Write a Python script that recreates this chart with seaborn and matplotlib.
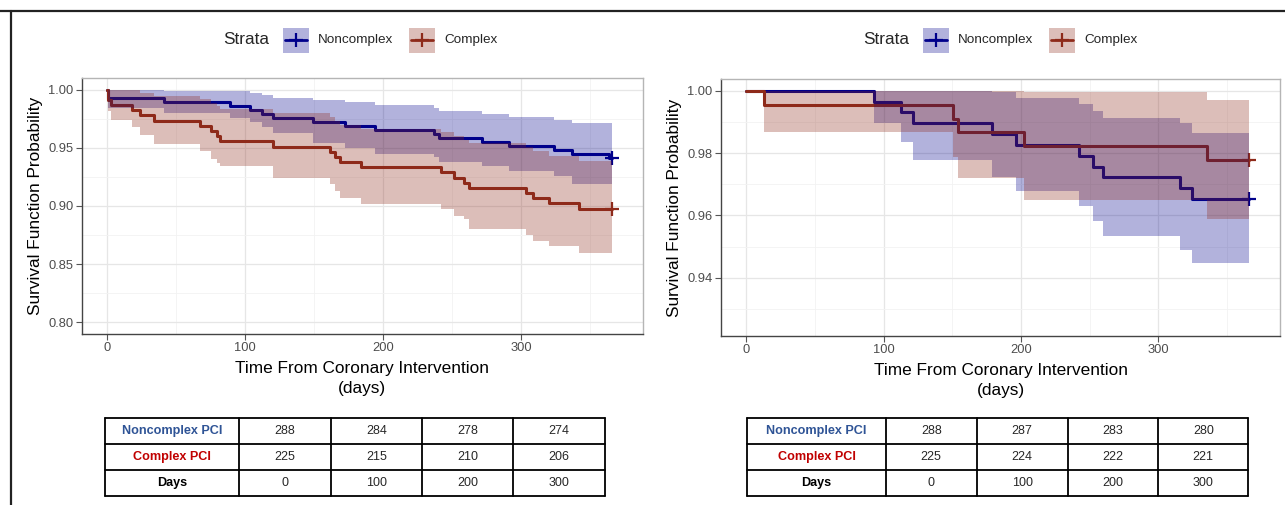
import numpy as np
import pandas as pd
import matplotlib
matplotlib.use("Agg")
import matplotlib.pyplot as plt
from matplotlib.patches import Rectangle
from matplotlib.lines import Line2D
import seaborn as sns

# ---------------- data ----------------
strata = ["Noncomplex", "Complex"]
end_day = 366

# left panel - step times (days) and survival / confidence limits
blue_l_time = [0, 0.5, 41, 89, 103.6, 112, 120.5, 149, 172.3, 194, 237, 240.5, 272, 291.6, 324, 337, 364]
blue_l_surv = [1.0, 0.9931, 0.9896, 0.9861, 0.9826, 0.9792, 0.9757, 0.9722, 0.9688, 0.9653, 0.9618,
               0.9583, 0.9549, 0.9514, 0.9479, 0.9444, 0.9410]
blue_l_upper = [1.0, 1.0, 0.9990, 0.9986, 0.9974, 0.9957, 0.9929, 0.9910, 0.9890, 0.9868, 0.9838,
                0.9814, 0.9794, 0.9766, 0.9743, 0.9714, 0.9714]
blue_l_lower = [1.0, 0.9843, 0.9800, 0.9760, 0.9720, 0.9680, 0.9630, 0.9540, 0.9500, 0.9451, 0.9420,
                0.9380, 0.9345, 0.9305, 0.9255, 0.9190, 0.9190]

red_l_time = [0, 0.5, 2.4, 18, 24, 34, 67.5, 75, 79.5, 82, 120.5, 161.4, 165, 168.7, 184.3, 242.2,
              251.8, 259, 262.6, 303.6, 308.4, 320.5, 342.2]
red_l_surv = [1.0, 0.9911, 0.9867, 0.9822, 0.9778, 0.9733, 0.9689, 0.9644, 0.9600, 0.9556, 0.9511,
              0.9467, 0.9422, 0.9378, 0.9333, 0.9289, 0.9244, 0.9200, 0.9156, 0.9111, 0.9067, 0.9022, 0.8978]
red_l_upper = [1.0, 1.0, 1.0, 0.9996, 0.9973, 0.9946, 0.9919, 0.9888, 0.9860, 0.9832, 0.9797,
               0.9766, 0.9733, 0.9700, 0.9666, 0.9632, 0.9600, 0.9570, 0.9540, 0.9505, 0.9470, 0.9430, 0.9386]
red_l_lower = [1.0, 0.9820, 0.9743, 0.9680, 0.9610, 0.9529, 0.9471, 0.9400, 0.9370, 0.9343, 0.9243,
               0.9186, 0.9130, 0.9071, 0.9014, 0.8971, 0.8914, 0.8886, 0.8800, 0.8749, 0.8700, 0.8652, 0.8600]

# right panel
blue_r_time = [0, 92.6, 112.7, 121.2, 178.7, 196.4, 242.4, 252.6, 259.9, 315.8, 324.1]
blue_r_surv = [1.0, 0.9965, 0.9931, 0.9896, 0.9861, 0.9826, 0.9792, 0.9757, 0.9722, 0.9688, 0.9653]
blue_r_upper = [1.0, 1.0, 1.0, 1.0, 0.9997, 0.9977, 0.9958, 0.9937, 0.9914, 0.9896, 0.9866]
blue_r_lower = [1.0, 0.9898, 0.9837, 0.9779, 0.9725, 0.9677, 0.9629, 0.9583, 0.9535, 0.9490, 0.9446]

red_r_time = [0, 13.1, 150.3, 154, 202.4, 335]
red_r_surv = [1.0, 0.9956, 0.9911, 0.9867, 0.9822, 0.9778]
red_r_upper = [1.0, 1.0, 1.0, 1.0, 0.9996, 0.9972]
red_r_lower = [1.0, 0.9869, 0.9789, 0.9720, 0.9651, 0.9587]

# numbers at risk tables
table_days = [0, 100, 200, 300]
left_risk_noncomplex = [288, 284, 278, 274]
left_risk_complex = [225, 215, 210, 206]
right_risk_noncomplex = [288, 287, 283, 280]
right_risk_complex = [225, 224, 222, 221]
row_labels = ["Noncomplex PCI", "Complex PCI", "Days"]

BLUE = "#00008B"
RED = "#8E2A1A"
palette = {"Noncomplex": BLUE, "Complex": RED}

W, H = 1285, 505
sns.set_theme(style="whitegrid")
plt.rcParams["font.family"] = ["Liberation Sans", "DejaVu Sans"]

fig = plt.figure(figsize=(W / 100, H / 100), dpi=100)
fig.patch.set_facecolor("white")

# overlay in pixel coords for frame, legends and tables
ov = fig.add_axes([0, 0, 1, 1], zorder=-1)
ov.set_xlim(0, W)
ov.set_ylim(H, 0)
ov.axis("off")


def px_axes(left, top, right, bottom):
    return fig.add_axes([left / W, 1 - bottom / H, (right - left) / W, (bottom - top) / H])


def km_panel(ax, curves, ylim, yticks, yminor):
    rows = []
    for name, t, s in curves:
        for tt, ss in zip(list(t) + [end_day], list(s) + [s[-1]]):
            rows.append({"day": tt, "surv": ss, "strata": name})
    df = pd.DataFrame(rows)
    sns.lineplot(data=df, x="day", y="surv", hue="strata", palette=palette, estimator=None,
                 drawstyle="steps-post", lw=2.2, legend=False, ax=ax, zorder=2)
    for name, t, s in curves:
        ax.plot(end_day, s[-1], marker="+", ms=10, mew=1.6, color=palette[name], zorder=2)
    ax.set_xlim(-18.5, 388.5)
    ax.set_ylim(*ylim)
    ax.set_xticks([0, 100, 200, 300])
    ax.set_xticks([50, 150, 250, 350], minor=True)
    ax.set_yticks(yticks)
    ax.set_yticks(yminor, minor=True)
    ax.set_yticklabels([f"{v:.2f}" for v in yticks])
    ax.grid(which="major", color="#e6e6e6", lw=0.9)
    ax.grid(which="minor", color="#f2f2f2", lw=0.6)
    ax.tick_params(axis="both", which="major", direction="out", length=4, width=0.8, color="#555555",
                   labelsize=9.3, labelcolor="#4d4d4d", pad=2, bottom=True, left=True)
    ax.tick_params(which="minor", length=0)
    for side in ["top", "right"]:
        ax.spines[side].set_color("#b5b5b5")
        ax.spines[side].set_linewidth(1.0)
    for side in ["left", "bottom"]:
        ax.spines[side].set_color("#444444")
        ax.spines[side].set_linewidth(1.0)
    ax.set_ylabel("Survival Function Probability", fontsize=12.4, color="black", labelpad=4)
    ax.set_xlabel("Time From Coronary Intervention\n(days)", fontsize=12.4, color="black",
                  labelpad=5, linespacing=1.4)


def ribbon(ax, t, lo, hi, color):
    tt = list(t) + [end_day]
    ax.fill_between(tt, list(lo) + [lo[-1]], list(hi) + [hi[-1]], step="post",
                    color=color, alpha=0.3, lw=0, zorder=3)


def legend_at(cx, cy=40):
    ov.text(cx - 138, cy, "Strata", fontsize=12.4, va="center", ha="left")
    for x0, name, lab in [(cx - 78, "Noncomplex", "Noncomplex"), (cx + 48, "Complex", "Complex")]:
        col = palette[name]
        ov.add_patch(Rectangle((x0, cy - 12.5), 26, 25, color=col, alpha=0.3, lw=0))
        ov.add_line(Line2D([x0 + 2, x0 + 24], [cy, cy], color=col, lw=2))
        ov.plot(x0 + 13, cy, marker="+", ms=10, mew=1.6, color=col)
        ov.text(x0 + 35, cy, lab, fontsize=9.7, va="center", ha="left")


def risk_table(xs, ys, first, second):
    vals = [first, second, table_days]
    colors = ["#2F5496", "#C00000", "black"]
    for x in xs:
        ov.plot([x, x], [ys[0], ys[-1]], color="black", lw=1.3)
    for y in ys:
        ov.plot([xs[0], xs[-1]], [y, y], color="black", lw=1.3)
    for r in range(3):
        yc = (ys[r] + ys[r + 1]) / 2
        ov.text((xs[0] + xs[1]) / 2, yc, row_labels[r], color=colors[r], fontsize=9.1,
                fontweight="bold", ha="center", va="center")
        for c, v in enumerate(vals[r]):
            ov.text((xs[c + 1] + xs[c + 2]) / 2, yc, str(v), fontsize=9.0, ha="center", va="center")


# left panel
axl = px_axes(81.7, 78, 643, 334)
km_panel(axl, [("Noncomplex", blue_l_time, blue_l_surv), ("Complex", red_l_time, red_l_surv)],
         (0.79, 1.01), [0.80, 0.85, 0.90, 0.95, 1.00], [0.825, 0.875, 0.925, 0.975])
ribbon(axl, blue_l_time, blue_l_lower, blue_l_upper, BLUE)
ribbon(axl, red_l_time, red_l_lower, red_l_upper, RED)

# right panel
axr = px_axes(721, 79.3, 1280, 336)
km_panel(axr, [("Noncomplex", blue_r_time, blue_r_surv), ("Complex", red_r_time, red_r_surv)],
         (0.92125, 1.00375), [0.94, 0.96, 0.98, 1.00], [0.93, 0.95, 0.97, 0.99])
ribbon(axr, blue_r_time, blue_r_lower, blue_r_upper, BLUE)
ribbon(axr, red_r_time, red_r_lower, red_r_upper, RED)

legend_at(361)
legend_at(1001)

risk_table([105, 239.3, 330.7, 422, 513.3, 605], [418.3, 443.8, 470, 496],
           left_risk_noncomplex, left_risk_complex)
risk_table([747.3, 885.7, 976.7, 1067.7, 1158.3, 1248.3], [418.3, 444, 470, 496],
           right_risk_noncomplex, right_risk_complex)

# outer frame lines (top and left)
ov.plot([0, W], [11, 11], color="#222222", lw=1.6)
ov.plot([10.5, 10.5], [11, H], color="#222222", lw=1.6)

fig.savefig("out.png", dpi=100, facecolor="white")
